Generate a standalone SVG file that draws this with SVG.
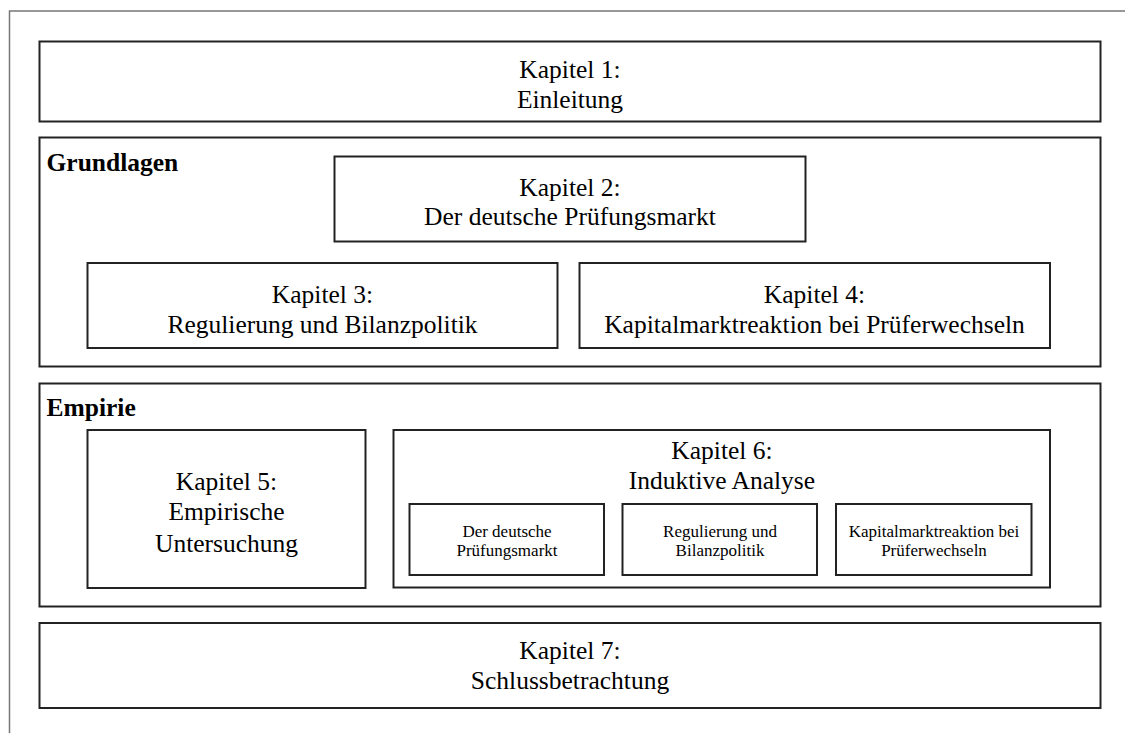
<svg xmlns="http://www.w3.org/2000/svg" width="1125" height="733" viewBox="0 0 1125 733">
<style>
.box{fill:#fff;stroke:#222;stroke-width:2}
.t{font-family:"Liberation Serif","Times New Roman",serif;font-size:25.5px;fill:#000;text-anchor:middle}
.s{font-family:"Liberation Serif","Times New Roman",serif;font-size:17px;fill:#000;text-anchor:middle}
.h{font-family:"Liberation Serif","Times New Roman",serif;font-size:25.5px;font-weight:bold;fill:#000}
</style>
<rect width="1125" height="733" fill="#fff"/>
<path d="M9.5,740 V11 H1130" fill="none" stroke="#777" stroke-width="1.5"/>
<g id="k1">
<rect class="box" x="39.5" y="41.5" width="1061" height="80"/>
<text class="t" x="570" y="78">Kapitel 1:</text>
<text class="t" x="570" y="108">Einleitung</text>
</g>
<g id="grundlagen">
<rect class="box" x="39.5" y="137.5" width="1061" height="229"/>
<text class="h" x="46.5" y="171">Grundlagen</text>
</g>
<g id="k2">
<rect class="box" x="334.5" y="156.5" width="471" height="85"/>
<text class="t" x="570" y="196">Kapitel 2:</text>
<text class="t" x="570" y="225">Der deutsche Prüfungsmarkt</text>
</g>
<g id="k3">
<rect class="box" x="87.5" y="263" width="470" height="85"/>
<text class="t" x="322.5" y="303">Kapitel 3:</text>
<text class="t" x="322.5" y="333">Regulierung und Bilanzpolitik</text>
</g>
<g id="k4">
<rect class="box" x="579.5" y="263" width="470.5" height="85"/>
<text class="t" x="814.5" y="303">Kapitel 4:</text>
<text class="t" x="814.5" y="333">Kapitalmarktreaktion bei Prüferwechseln</text>
</g>
<g id="empirie">
<rect class="box" x="39.5" y="383.5" width="1061" height="223"/>
<text class="h" x="46.5" y="416">Empirie</text>
</g>
<g id="k5">
<rect class="box" x="87.5" y="430" width="278" height="158"/>
<text class="t" x="226.5" y="490">Kapitel 5:</text>
<text class="t" x="226.5" y="520">Empirische</text>
<text class="t" x="226.5" y="552">Untersuchung</text>
</g>
<g id="k6">
<rect class="box" x="393.5" y="430" width="656.5" height="157.5"/>
<text class="t" x="722" y="459">Kapitel 6:</text>
<text class="t" x="722" y="489">Induktive Analyse</text>
</g>
<g id="k6a">
<rect class="box" x="409.5" y="504" width="194.5" height="71"/>
<text class="s" x="507" y="536.5">Der deutsche</text>
<text class="s" x="507" y="556">Prüfungsmarkt</text>
</g>
<g id="k6b">
<rect class="box" x="622.5" y="504" width="194.5" height="71"/>
<text class="s" x="720" y="536.5">Regulierung und</text>
<text class="s" x="720" y="556">Bilanzpolitik</text>
</g>
<g id="k6c">
<rect class="box" x="836" y="504" width="195.5" height="71"/>
<text class="s" x="934" y="536.5">Kapitalmarktreaktion bei</text>
<text class="s" x="934" y="556">Prüferwechseln</text>
</g>
<g id="k7">
<rect class="box" x="39.5" y="623" width="1061" height="85"/>
<text class="t" x="570" y="658.5">Kapitel 7:</text>
<text class="t" x="570" y="688.5">Schlussbetrachtung</text>
</g>
<g id="connectors"></g>
</svg>
